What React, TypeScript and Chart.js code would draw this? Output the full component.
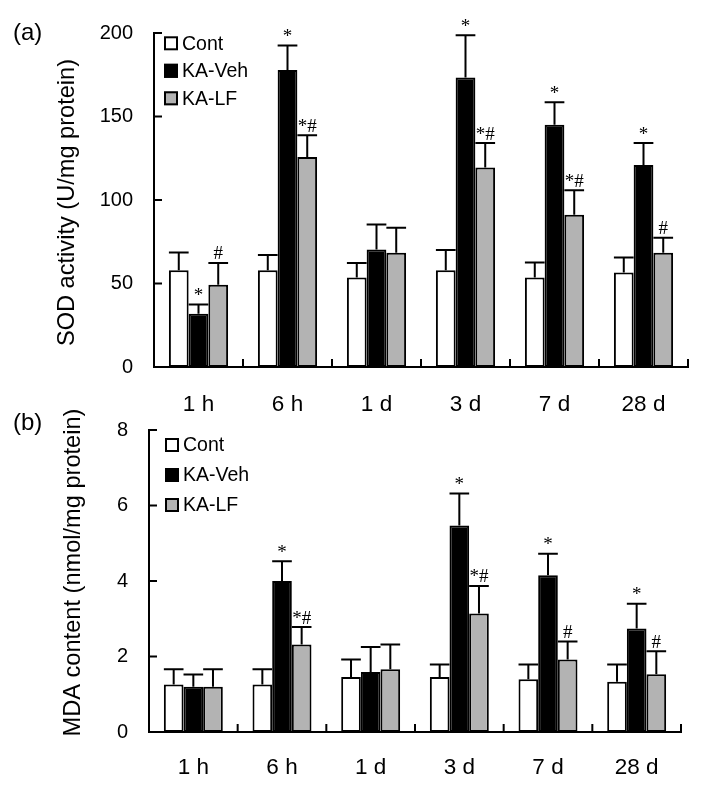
import React, { useEffect, useRef } from 'react';
import { Chart, registerables } from 'chart.js';

Chart.register(...registerables);

const SANS = "'Liberation Sans', Arial, sans-serif";
const SERIF = "'Liberation Serif', 'Times New Roman', serif";

// ---------- data ----------
const categories = ['1 h', '6 h', '1 d', '3 d', '7 d', '28 d'];
const seriesNames = ['Cont', 'KA-Veh', 'KA-LF'];
const seriesColors = ['#ffffff', '#000000', '#b3b3b3'];

// (a) SOD activity
const sodCont = [58, 58, 53.6, 58, 53.6, 56.6];
const sodContErr = [10.5, 9, 8.7, 12, 9, 9];
const sodVeh = [31.9, 177.8, 70.4, 173.3, 145, 120.9];
const sodVehErr = [5.5, 14.7, 15, 25.3, 13.5, 13.2];
const sodLF = [49.3, 125.8, 68.4, 119.5, 91.2, 68.4];
const sodLFErr = [13, 13, 15, 14.6, 14.6, 9];
const sodContMarks = ['', '', '', '', '', ''];
const sodVehMarks = ['*', '*', '', '*', '*', '*'];
const sodLFMarks = ['#', '*#', '', '*#', '*#', '#'];
const sodTicks = [0, 50, 100, 150, 200];

// (b) MDA content
const mdaCont = [1.26, 1.26, 1.46, 1.46, 1.4, 1.33];
const mdaContErr = [0.4, 0.4, 0.46, 0.33, 0.39, 0.46];
const mdaVeh = [1.2, 4.0, 1.59, 5.47, 4.15, 2.74];
const mdaVehErr = [0.32, 0.52, 0.66, 0.85, 0.57, 0.66];
const mdaLF = [1.2, 2.32, 1.66, 3.14, 1.92, 1.53];
const mdaLFErr = [0.46, 0.46, 0.66, 0.73, 0.48, 0.61];
const mdaContMarks = ['', '', '', '', '', ''];
const mdaVehMarks = ['', '*', '', '*', '*', '*'];
const mdaLFMarks = ['', '*#', '', '*#', '#', '#'];
const mdaTicks = [0, 2, 4, 6, 8];

type Panel = {
  tag: string;
  yTitle: string;
  values: number[][];
  errors: number[][];
  marks: string[][];
  ticks: number[];
  offsetTop: number;
  height: number;
  area: { left: number; right: number; top: number; bottom: number };
  tagBaseline: number;
  titleX: number;
  titleY: number;
  legendY0: number;
  legendDy: number;
  legendX: number;
  xPad: number;
};

const panels: Panel[] = [
  {
    tag: '(a)',
    yTitle: 'SOD activity (U/mg protein)',
    values: [sodCont, sodVeh, sodLF],
    errors: [sodContErr, sodVehErr, sodLFErr],
    marks: [sodContMarks, sodVehMarks, sodLFMarks],
    ticks: sodTicks,
    offsetTop: 0,
    height: 420,
    area: { left: 154, right: 688, top: 30, bottom: 367 },
    tagBaseline: 40,
    titleX: 67.5,
    titleY: 202.5,
    legendY0: 43.3,
    legendDy: 27.5,
    legendX: 164,
    xPad: 24.5,
  },
  {
    tag: '(b)',
    yTitle: 'MDA content (nmol/mg protein)',
    values: [mdaCont, mdaVeh, mdaLF],
    errors: [mdaContErr, mdaVehErr, mdaLFErr],
    marks: [mdaContMarks, mdaVehMarks, mdaLFMarks],
    ticks: mdaTicks,
    offsetTop: 390,
    height: 400,
    area: { left: 149, right: 681, top: 430, bottom: 732 },
    tagBaseline: 430,
    titleX: 73,
    titleY: 572.5,
    legendY0: 445,
    legendDy: 30,
    legendX: 165,
    xPad: 22.5,
  },
];

function makePlugin(p: Panel) {
  const off = p.offsetTop;
  return {
    id: 'decor',
    afterDatasetsDraw(chart: any) {
      const ctx = chart.ctx as CanvasRenderingContext2D;
      const xs = chart.scales.x;
      const ys = chart.scales.y;
      const area = chart.chartArea;
      ctx.save();
      ctx.strokeStyle = '#000';
      ctx.fillStyle = '#000';
      ctx.lineWidth = 2;
      ctx.lineCap = 'butt';

      // error bars + significance marks
      chart.data.datasets.forEach((ds: any, di: number) => {
        const meta = chart.getDatasetMeta(di);
        meta.data.forEach((bar: any, i: number) => {
          const v = ds.data[i] as number;
          const e = p.errors[di][i];
          const yTop = ys.getPixelForValue(v);
          const yCap = ys.getPixelForValue(v + e);
          const { x, width } = bar.getProps(['x', 'width'], true);
          ctx.beginPath();
          ctx.moveTo(x, yTop);
          ctx.lineTo(x, yCap);
          ctx.moveTo(x - width / 2, yCap);
          ctx.lineTo(x + width / 2, yCap);
          ctx.stroke();
          const m = p.marks[di][i];
          if (m) {
            ctx.font = `19px ${SERIF}`;
            ctx.textAlign = 'center';
            ctx.textBaseline = 'alphabetic';
            ctx.fillText(m, x, yCap - 3.5);
          }
        });
      });

      // axes
      ctx.beginPath();
      ctx.moveTo(area.left, area.top - 1);
      ctx.lineTo(area.left, area.bottom + 1);
      ctx.moveTo(area.left - 1, area.bottom);
      ctx.lineTo(area.right + 1, area.bottom);
      ys.ticks.forEach((t: any) => {
        if (t.value === 0) return;
        const y = ys.getPixelForValue(t.value);
        ctx.moveTo(area.left, y);
        ctx.lineTo(area.left + 8, y);
      });
      const n = xs.getLabels().length;
      const w = (xs.right - xs.left) / n;
      for (let i = 1; i <= n; i++) {
        const x = xs.left + i * w;
        ctx.moveTo(x, area.bottom);
        ctx.lineTo(x, area.bottom - 8);
      }
      ctx.stroke();

      // legend
      ctx.font = `19.5px ${SANS}`;
      ctx.textAlign = 'left';
      ctx.textBaseline = 'middle';
      chart.data.datasets.forEach((ds: any, di: number) => {
        const cy = p.legendY0 - off + di * p.legendDy;
        const sx = p.legendX;
        ctx.fillStyle = ds.backgroundColor;
        ctx.fillRect(sx, cy - 7, 14, 14);
        ctx.strokeRect(sx + 1, cy - 6, 12, 12);
        ctx.fillStyle = '#000';
        ctx.fillText(ds.label, sx + 18, cy + 1);
      });

      // panel tag
      ctx.font = `24px ${SANS}`;
      ctx.textBaseline = 'alphabetic';
      ctx.fillText(p.tag, 13, p.tagBaseline - off);

      // y title
      ctx.translate(p.titleX, p.titleY - off);
      ctx.rotate(-Math.PI / 2);
      ctx.font = `23.6px ${SANS}`;
      ctx.textAlign = 'center';
      ctx.textBaseline = 'middle';
      ctx.fillText(p.yTitle, 0, 0);
      ctx.restore();
    },
  };
}

function PanelChart({ p }: { p: Panel }) {
  const ref = useRef<HTMLCanvasElement | null>(null);
  useEffect(() => {
    if (!ref.current) return;
    const a = {
      left: p.area.left,
      right: p.area.right,
      top: p.area.top - p.offsetTop,
      bottom: p.area.bottom - p.offsetTop,
    };
    const chart = new Chart(ref.current, {
      type: 'bar',
      data: {
        labels: categories,
        datasets: seriesNames.map((name, i) => ({
          label: name,
          data: p.values[i],
          backgroundColor: seriesColors[i],
          borderColor: '#000000',
          borderWidth: 2,
          borderSkipped: false,
          barPercentage: 1,
          categoryPercentage: 0.665,
        })),
      },
      options: {
        responsive: false,
        animation: false,
        devicePixelRatio: 1,
        layout: { padding: { top: a.top, right: 705 - a.right, left: 0, bottom: 0 } },
        plugins: { legend: { display: false }, tooltip: { enabled: false }, title: { display: false } },
        scales: {
          x: {
            type: 'category',
            offset: true,
            grid: { display: false, drawTicks: false },
            border: { display: false },
            ticks: {
              color: '#000',
              font: { family: SANS, size: 22.5 },
              padding: p.xPad,
              maxRotation: 0,
              autoSkip: false,
            },
            afterFit: (s: any) => {
              s.height = p.height - a.bottom;
            },
          },
          y: {
            min: p.ticks[0],
            max: p.ticks[p.ticks.length - 1],
            afterBuildTicks: (s: any) => {
              s.ticks = p.ticks.map((v) => ({ value: v }));
            },
            grid: { display: false, drawTicks: false },
            border: { display: false },
            ticks: {
              color: '#000',
              font: { family: SANS, size: 20 },
              padding: 21,
            },
            afterFit: (s: any) => {
              s.width = a.left;
            },
          },
        },
      },
      plugins: [makePlugin(p)],
    } as any);
    return () => chart.destroy();
  }, [p]);
  return (
    <canvas
      ref={ref}
      width={705}
      height={p.height}
      style={{ position: 'absolute', left: 0, top: p.offsetTop, width: 705, height: p.height }}
    />
  );
}

export default function App() {
  return (
    <div style={{ position: 'absolute', left: 0, top: 0, width: 705, height: 790, background: '#fff' }}>
      {panels.map((p) => (
        <PanelChart key={p.tag} p={p} />
      ))}
    </div>
  );
}
